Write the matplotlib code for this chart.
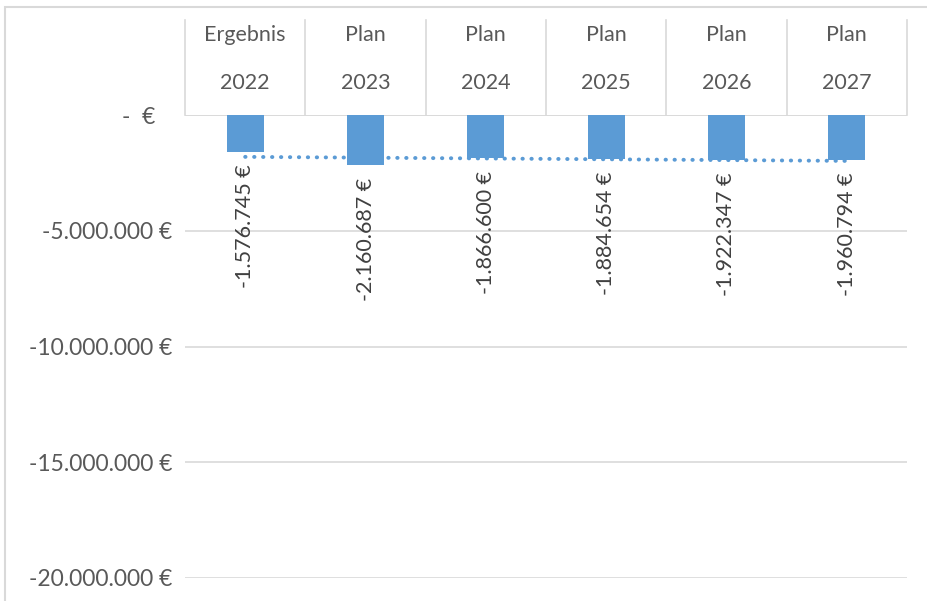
import numpy as np
import matplotlib.pyplot as plt
from matplotlib.transforms import blended_transform_factory
from matplotlib.patches import Rectangle

plt.rcParams['font.family'] = ['Lato', 'DejaVu Sans']

kind = ["Ergebnis", "Plan", "Plan", "Plan", "Plan", "Plan"]
years = ["2022", "2023", "2024", "2025", "2026", "2027"]
values = [-1576745, -2160687, -1866600, -1884654, -1922347, -1960794]
yticks = [0, -5000000, -10000000, -15000000, -20000000]

bar_col = '#5b9bd5'
grid_col = '#d9d9d9'
text_col = '#595959'
fs = 15.5


def euro(v):
    if v == 0:
        return "-  €   "
    return f"{v:,.0f} €".replace(",", ".")


fig = plt.figure(figsize=(9.27, 6.01), dpi=100)
ax = fig.add_axes([185 / 927, 23 / 601, 722 / 927, 463 / 601])

x = np.arange(len(values))
ax.bar(x, values, width=0.31, color=bar_col, zorder=3)

# linear trend line (dotted)
k, d = np.polyfit(x, values, 1)
ax.plot(x, k * x + d, color=bar_col, linestyle=(0, (0.1, 2.2)), linewidth=2.8,
        dash_capstyle='round', zorder=4)

for xi, v in zip(x, values):
    ax.annotate(euro(v), (xi, v), xytext=(0, -9), textcoords='offset points',
                rotation=90, ha='center', va='top', fontsize=fs, color='#404040')

ax.set_xlim(-0.5, len(values) - 0.5)
ax.set_ylim(-20000000, 0)
ax.set_yticks(yticks)
ax.set_yticklabels([euro(t) for t in yticks], fontsize=16.5, color=text_col)
ax.tick_params(axis='y', length=0, pad=9)
ax.set_xticks([])
ax.grid(axis='y', color=grid_col, linewidth=1.2, zorder=0)
for s in ax.spines.values():
    s.set_visible(False)
ax.axhline(0, color=grid_col, linewidth=1.2, zorder=2)

# category table above the zero line
tr = blended_transform_factory(ax.transData, ax.transAxes)
for xb in np.arange(-0.5, len(values), 1.0):
    ax.plot([xb, xb], [1.0, 1.206], transform=tr, color=grid_col, linewidth=1.2,
            clip_on=False)
for xi, kd, yr in zip(x, kind, years):
    ax.text(xi, 1.173, kd, transform=tr, ha='center', va='center', fontsize=fs,
            color=text_col, clip_on=False)
    ax.text(xi, 1.069, yr, transform=tr, ha='center', va='center', fontsize=fs,
            color=text_col, clip_on=False)

# chart frame
fig.patches.append(Rectangle((5 / 927, -0.05), 1.0, 1.05 - 7.5 / 601,
                             transform=fig.transFigure, fill=False,
                             edgecolor=grid_col, linewidth=1.5))

fig.savefig("out.png", dpi=100)
